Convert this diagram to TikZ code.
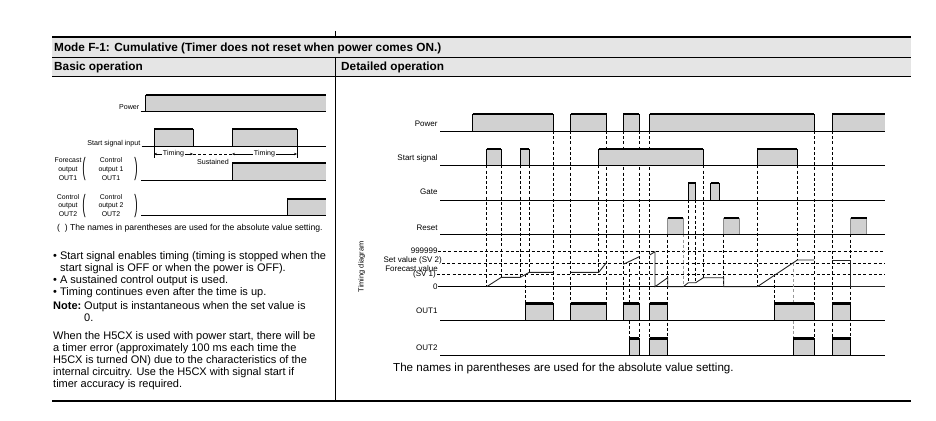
\documentclass[tikz,border=0pt]{standalone}
\usepackage{fontspec}
\setmainfont{Liberation Sans}
\usepackage{graphicx}
\usetikzlibrary{arrows.meta}
\usetikzlibrary{calc}

\tikzset{
  pulsefill/.style={fill=black!18},
  edge/.style={line width=0.7pt},
  topedge/.style={line width=2.4pt},
  sigline/.style={line width=0.7pt},
  vdash/.style={line width=0.6pt, dash pattern=on 3pt off 2.2pt},
  head/.style={font=\bfseries\fontsize{11.8}{13}\selectfont, anchor=base west, inner sep=0pt},
  lab/.style={font=\fontsize{7.1}{8.2}\selectfont, inner sep=0.5pt},
  outlab/.style={font=\fontsize{6.9}{8.8}\selectfont, inner sep=0pt, align=center},
  rlab/.style={font=\fontsize{8}{9}\selectfont, inner sep=0pt, anchor=base east},
  txt/.style={font=\fontsize{11}{12}\selectfont, inner sep=0pt, anchor=base west},
  tarrow/.style={{Stealth[length=3pt,width=2.4pt]}-{Stealth[length=3pt,width=2.4pt]}, line width=0.4pt},
  cnt/.style={line width=0.9pt, black!85, line join=miter},
}

% pulse with both edges: [edge colour]{left}{right}{base}{top}
\newcommand{\sigpulse}[5][black]{%
  \fill[pulsefill] (#2,#4) rectangle (#3,#5);
  \draw[edge,#1] (#2,#4) -- (#2,#5);
  \draw[edge,#1] (#3,#5) -- (#3,#4);
  \draw[topedge] (#2,#5) -- (#3,#5);
}
% pulse running off the right end
\newcommand{\sigstep}[4]{%
  \fill[pulsefill] (#1,#3) rectangle (#2,#4);
  \draw[edge] (#1,#3) -- (#1,#4);
  \draw[topedge] (#1,#4) -- (#2,#4);
}
\newcommand{\tallparen}[1]{\scalebox{1}[2.5]{\fontsize{10}{10}\selectfont #1}}

\begin{document}
\begin{tikzpicture}[x=1pt,y=-1pt]
  \useasboundingbox (0,0) rectangle (936,420);

  % table frame
  \fill[black!10] (52,37) rectangle (911,76);
  \draw[line width=1.2pt] (52,37) -- (911,37);
  \draw[line width=0.6pt] (52,57) -- (911,57);
  \draw[line width=0.6pt] (52,76) -- (911,76);
  \draw[line width=0.6pt] (335,31) -- (335,37);
  \draw[line width=0.6pt] (335,57) -- (335,401);
  \draw[line width=1.4pt] (52,401) -- (911,401);
  \node[head] (mode) at (54,51.5) {Mode F-1: Cumulative (Timer does not reset when power comes ON.)};
  \node[head] (basic) at (54,70.5) {Basic operation};
  \node[head] (detail) at (341,70.5) {Detailed operation};

  % ---- basic operation ----
  \sigstep{145.7}{326}{111.7}{95}
  \draw[sigline] (140.5,111.7) -- (326,111.7);
  \node[lab, anchor=base east] (lpow) at (140,109.5) {Power};

  \sigpulse{154}{193}{146}{129}
  \sigpulse{232}{297}{146}{129}
  \draw[sigline] (141.5,146) -- (326,146);
  \node[lab, anchor=base east] (lstart) at (141,145) {Start signal input};

  \draw[tarrow] (154,154) -- (193,154) node[midway, fill=white, lab] (tim1) {Timing};
  \draw[vdash, line width=0.4pt] (193,154) -- (232,154);
  \draw[tarrow] (232,154) -- (297,154) node[midway, fill=white, lab] (tim2) {Timing};
  \draw[line width=0.4pt] (154,146) -- (154,158);
  \draw[line width=0.4pt] (297,146) -- (297,158);
  \node[lab] (sus) at (213,162) {Sustained};

  \sigstep{232}{326}{180}{163}
  \draw[sigline] (141,180) -- (326,180);
  \node[outlab] (fc1) at (68,169) {Forecast\\output\\OUT1};
  \node[inner sep=0pt] (lp1) at (84,169.5) {\tallparen{(}};
  \node[outlab] (co1) at (111,169) {Control\\output 1\\OUT1};
  \node[inner sep=0pt] (rp1) at (136,169.5) {\tallparen{)}};

  \sigstep{287}{326}{215}{199}
  \draw[sigline] (141,215) -- (326,215);
  \node[outlab] (cc2) at (68,205.5) {Control\\output\\OUT2};
  \node[inner sep=0pt] (lp2) at (84,206) {\tallparen{(}};
  \node[outlab] (co2) at (111,205.5) {Control\\output 2\\OUT2};
  \node[inner sep=0pt] (rp2) at (136,206) {\tallparen{)}};

  \node[lab, font=\fontsize{8.6}{9}\selectfont, anchor=base west, inner sep=0pt] (names) at (57,230) {(\ \ ) The names in parentheses are used for the absolute value setting.};

  \node[txt] (b1a) at (53,259) {\textbullet\ Start signal enables timing (timing is stopped when the};
  \node[txt] (b1b) at (60,271) {start signal is OFF or when the power is OFF).};
  \node[txt] (b2) at (53,283) {\textbullet\ A sustained control output is used.};
  \node[txt] (b3) at (53,295) {\textbullet\ Timing continues even after the time is up.};
  \node[txt, font=\bfseries\fontsize{11}{12}\selectfont] (note) at (53,309) {Note:};
  \node[txt] (n1) at (84,309) {Output is instantaneous when the set value is};
  \node[txt] (n2) at (84,321) {0.};
  \node[txt] (p1) at (53,339) {When the H5CX is used with power start, there will be};
  \node[txt] (p2) at (53,351) {a timer error (approximately 100 ms each time the};
  \node[txt] (p3) at (53,363) {H5CX is turned ON) due to the characteristics of the};
  \node[txt] (p4) at (53,375) {internal circuitry. Use the H5CX with signal start if};
  \node[txt] (p5) at (53,387) {timer accuracy is required.};

  % ---- detailed operation ----
  % level lines of the counter
  \draw[vdash] (438,251) -- (885,251);
  \draw[vdash] (442,263.3) -- (885,263.3);
  \draw[vdash] (437,274.3) -- (885,274.3);
  \draw[sigline] (438,286.7) -- (885,286.7);
  \node[rlab, anchor=east] (v999) at (437.7,250.5) {999999};
  \node[rlab, anchor=east] (sv2) at (442,260) {Set value (SV 2)};
  \node[rlab, anchor=east] (fcv) at (438,268.5) {Forecast value};
  \node[rlab, anchor=east] (sv1) at (436,274.8) {(SV 1)};
  \node[rlab, anchor=east] (zero) at (437.7,286.7) {0};
  \node[rlab, font=\fontsize{7.4}{8}\selectfont, anchor=center, rotate=90] (tdia) at (361.7,266.7) {Timing diagram};

  % event lines
  \foreach \x/\a/\b in {486.7/165.3/286.7, 501.3/165.3/277.3, 520.3/165.3/277.3,
      525.7/274.3/303.3, 529.3/165.3/272.3, 553.3/131/320, 570.7/131/320,
      598.7/165.3/272.3, 606.7/131/320, 623.3/131/320, 629.5/263.3/338.3,
      639.3/131/355, 649.7/131/355, 667.7/234.3/355, 688.3/200/282.7,
      695.7/200/282.7, 703.3/165.3/277.7, 723.7/234.3/286.7, 757.3/165.3/286.7,
      774.3/274.3/303.3, 797.3/165.3/260, 814.3/131/355, 832.3/131/355,
      850.7/234.3/355}
    \draw[vdash] (\x,\a) -- (\x,\b);
  \foreach \x/\a/\b in {683.3/234.3/286.7, 793.3/263.3/338.3}
    \draw[vdash, black!40] (\x,\a) -- (\x,\b);

  % counter value
  \draw[cnt] (486.7,286.7) -- (501.3,277.3) -- (520.3,277.3) -- (529.3,272.3) -- (553.3,272.3);
  \draw[cnt] (570.7,272.3) -- (598.7,272.3) -- (606.7,262.3);
  \draw[cnt] (623.3,264.3) -- (639.3,256.7);
  \draw[cnt] (649.7,255) -- (655,251.7) -- (655,286.7) -- (667.7,277.7) -- (667.7,286.7)
    -- (683.3,286.7) -- (688.3,282.7) -- (695.7,282.7) -- (703.3,277.7) -- (723.7,277.7)
    -- (723.7,286.7) -- (757.3,286.7) -- (797.3,260) -- (814.3,260);
  \draw[cnt] (832.3,260) -- (850.7,260) -- (850.7,286.7) -- (885,286.7);

  % Power
  \foreach \a/\b in {472.7/553.3, 570.7/606.7, 623.3/639.3, 649.7/814.3}
    {\sigpulse{\a}{\b}{131}{114}}
  \sigstep{832.3}{885}{131}{114}
  \draw[sigline] (440,131) -- (885,131);
  \node[rlab] (rpow) at (437.7,126) {Power};

  % Start signal
  \foreach \a/\b in {486.7/501.3, 520.3/529.3, 598.7/703.3, 757.3/797.3}
    {\sigpulse{\a}{\b}{165.3}{149}}
  \draw[sigline] (440,165.3) -- (885,165.3);
  \node[rlab] (rstart) at (437.7,160) {Start signal};

  % Gate
  \foreach \a/\b in {688.3/695.7, 710.7/719.3}
    {\sigpulse{\a}{\b}{200}{182.7}}
  \draw[sigline] (440,200) -- (885,200);
  \node[rlab] (rgate) at (437.7,194) {Gate};

  % Reset
  \foreach \a/\b in {667.7/683.3, 723.7/739.3, 850.7/866.7}
    {\sigpulse[black!45]{\a}{\b}{234.3}{217.7}}
  \draw[sigline] (440,234.3) -- (885,234.3);
  \node[rlab] (rreset) at (437.7,230) {Reset};

  % OUT1
  \foreach \a/\b in {525.7/553.3, 570.7/606.7, 623.3/639.3, 649.7/667.7, 774.3/814.3, 832.3/850.7}
    {\sigpulse{\a}{\b}{320}{303.3}}
  \draw[sigline] (440,320) -- (885,320);
  \node[rlab] (rout1) at (437.7,313) {OUT1};

  % OUT2
  \foreach \a/\b in {629.5/639.3, 649.7/667.7, 793.3/814.3, 832.3/850.7}
    {\sigpulse{\a}{\b}{355}{338.3}}
  \draw[sigline] (440,355) -- (885,355);
  \node[rlab] (rout2) at (437.7,350) {OUT2};

  \node[txt, font=\fontsize{11.6}{12}\selectfont] (rnames) at (393,371) {The names in parentheses are used for the absolute value setting.};
\end{tikzpicture}
\end{document}
